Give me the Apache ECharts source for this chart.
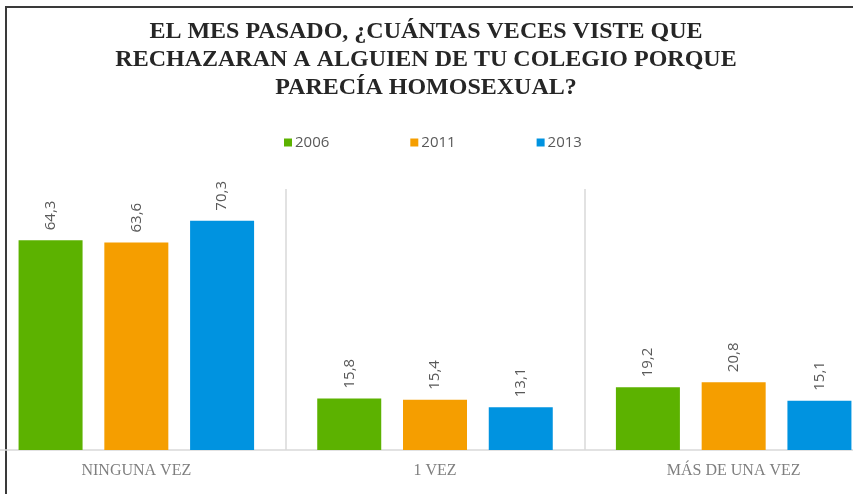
<!DOCTYPE html>
<html>
<head>
<meta charset="utf-8">
<script src="https://cdn.jsdelivr.net/npm/echarts@6/dist/echarts.min.js"></script>
<style>
  html, body { margin: 0; padding: 0; background: #fff; overflow: hidden; }
  body { width: 853px; height: 494px; position: relative; }
  /* plot runs a little past both edges, as in the cropped original */
  #chart { position: absolute; left: -13px; top: 0; width: 896px; height: 494px; }
</style>
</head>
<body>
<div id="chart"></div>
<script>
const categories = ['NINGUNA VEZ', '1 VEZ', 'MÁS DE UNA VEZ']
const years = ['2006', '2011', '2013']
const values2006 = [64.3, 15.8, 19.2]
const values2011 = [63.6, 15.4, 20.8]
const values2013 = [70.3, 13.1, 15.1]
const colors = ['#5cb200', '#f59e00', '#0093e0']

const titleText = 'EL MES PASADO, ¿CUÁNTAS VECES VISTE QUE\nRECHAZARAN A ALGUIEN DE TU COLEGIO PORQUE\nPARECÍA HOMOSEXUAL?'

const chart = echarts.init(document.getElementById('chart'))

const makeSeries = (name, data, color) => ({
  name,
  type: 'bar',
  data,
  barWidth: 64,
  barGap: '34%',
  itemStyle: { color },
  label: {
    show: true,
    position: 'top',
    rotate: 90,
    align: 'left',
    verticalAlign: 'middle',
    distance: 10,
    color: '#595959',
    fontSize: 15,
    fontFamily: 'Open Sans, sans-serif',
    formatter: p => p.value.toFixed(1).replace('.', ',')
  }
})

const option = {
  animation: false,
  backgroundColor: '#fff',
  title: {
    text: titleText,
    left: 439,
    textAlign: 'center',
    top: 18,
    padding: 0,
    textStyle: {
      fontFamily: 'Liberation Serif, serif',
      fontWeight: 'bold',
      fontSize: 24,
      lineHeight: 28,
      color: '#262626'
    }
  },
  legend: {
    data: years,
    top: 130,
    left: 292,
    itemWidth: 8,
    itemHeight: 8,
    itemGap: 81,
    icon: 'rect',
    textStyle: {
      fontFamily: 'Open Sans, sans-serif',
      fontSize: 15,
      color: '#595959',
      padding: [0, 0, 0, -2]
    }
  },
  grid: {
    left: 0,
    right: 0,
    top: 189,
    bottom: 44
  },
  xAxis: {
    type: 'category',
    data: categories,
    axisLine: { lineStyle: { color: '#d9d9d9', width: 1.5 } },
    axisTick: { show: false },
    splitLine: { show: true, lineStyle: { color: '#d9d9d9', width: 1.5 } },
    axisLabel: {
      margin: 13,
      fontFamily: 'Liberation Serif, serif',
      fontSize: 16,
      color: '#7f7f7f'
    }
  },
  yAxis: {
    type: 'value',
    min: 0,
    max: 80,
    show: false
  },
  graphic: [{
    type: 'polyline',
    shape: { points: [[19, 494], [19, 7], [866, 7]] },
    style: { stroke: '#3a3a3a', lineWidth: 2, fill: null }
  }],
  series: [
    makeSeries(years[0], values2006, colors[0]),
    makeSeries(years[1], values2011, colors[1]),
    makeSeries(years[2], values2013, colors[2])
  ]
}

chart.setOption(option)
</script>
</body>
</html>
